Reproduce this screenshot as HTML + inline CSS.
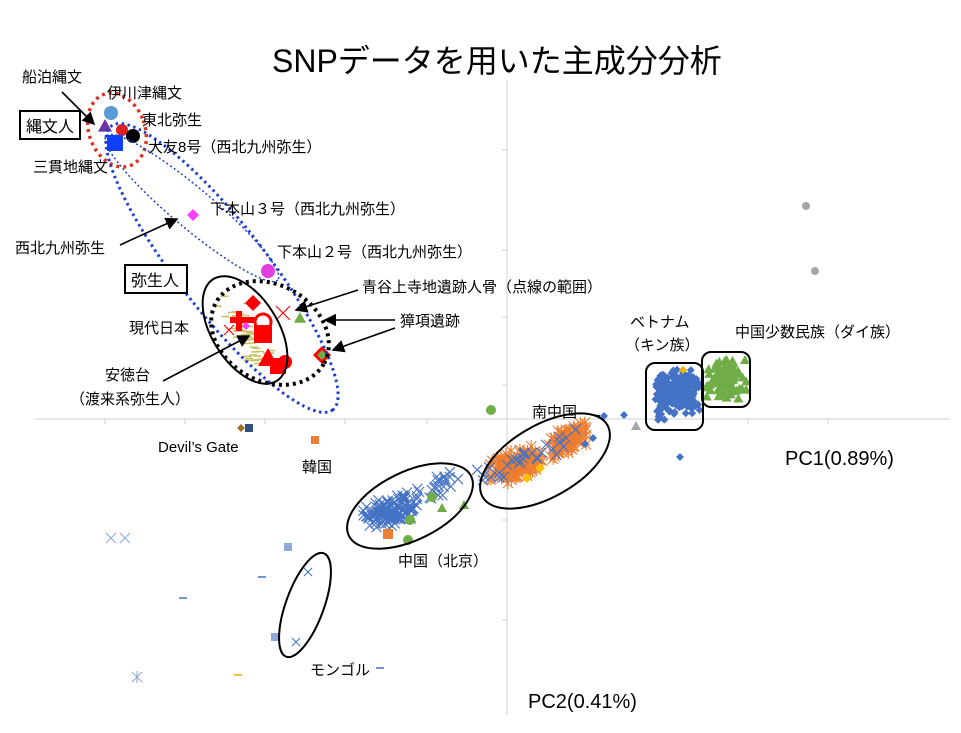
<!DOCTYPE html>
<html><head><meta charset="utf-8"><style>
html,body{margin:0;padding:0;background:#fff;width:961px;height:733px;overflow:hidden}
svg{display:block;font-family:"Liberation Sans","Noto Sans CJK JP",sans-serif}
</style></head><body>
<svg id="s" width="961" height="733" viewBox="0 0 961 733" xmlns="http://www.w3.org/2000/svg">
<defs><marker id="a" markerWidth="8" markerHeight="8" refX="7" refY="4" orient="auto"><path d="M0,0 L8,4 L0,8 z" fill="#000"/></marker></defs>
<g stroke="#d0d0d0" stroke-width="1">
<line x1="35" y1="419" x2="950" y2="419"/><line x1="507" y1="80" x2="507" y2="715"/>
<line x1="105" y1="419" x2="105" y2="424"/><line x1="185" y1="419" x2="185" y2="424"/><line x1="265" y1="419" x2="265" y2="424"/><line x1="345" y1="419" x2="345" y2="424"/><line x1="427" y1="419" x2="427" y2="424"/><line x1="587" y1="419" x2="587" y2="424"/><line x1="667" y1="419" x2="667" y2="424"/><line x1="748" y1="419" x2="748" y2="424"/><line x1="828" y1="419" x2="828" y2="424"/>
<line x1="502" y1="150" x2="507" y2="150"/><line x1="502" y1="250" x2="507" y2="250"/><line x1="502" y1="317" x2="507" y2="317"/><line x1="502" y1="385" x2="507" y2="385"/><line x1="502" y1="520" x2="507" y2="520"/><line x1="502" y1="620" x2="507" y2="620"/>
</g>
<g id="pts"></g>
<g fill="none">
<ellipse cx="117" cy="130" rx="28" ry="38" transform="rotate(-20 117 130)" stroke="#e03020" stroke-width="3.5" stroke-dasharray="3,4"/>
<ellipse cx="222" cy="268" rx="180" ry="44" transform="rotate(52 222 268)" stroke="#1f3fd0" stroke-width="3" stroke-dasharray="2.5,3.5"/>
<ellipse cx="192" cy="208" rx="112" ry="20" transform="rotate(40 192 208)" stroke="#1f3fd0" stroke-width="1.5" stroke-dasharray="2,2.5"/>
<ellipse cx="245" cy="330" rx="33" ry="60" transform="rotate(-32 245 330)" stroke="#000" stroke-width="2"/>
<ellipse cx="270" cy="333" rx="62" ry="48" transform="rotate(30 270 333)" stroke="#000" stroke-width="4" stroke-dasharray="3,4"/>
<ellipse cx="410" cy="506" rx="68" ry="34" transform="rotate(-26 410 506)" stroke="#000" stroke-width="2"/>
<ellipse cx="545" cy="461" rx="72" ry="36" transform="rotate(-30 545 461)" stroke="#000" stroke-width="2"/>
<ellipse cx="305" cy="605" rx="19" ry="55" transform="rotate(20 305 605)" stroke="#000" stroke-width="2"/>
<rect x="646" y="363" width="57" height="67" rx="9" stroke="#000" stroke-width="2"/>
<rect x="702" y="352" width="48" height="55" rx="9" stroke="#000" stroke-width="2"/>
<rect x="20" y="111" width="60" height="28" stroke="#000" stroke-width="2" fill="#fff"/>
<rect x="125" y="265" width="62" height="28" stroke="#000" stroke-width="2" fill="#fff"/>
</g>
<g stroke="#000" stroke-width="1.6" fill="none" marker-end="url(#a)">
<line x1="62" y1="92" x2="94" y2="124"/>
<line x1="120" y1="245" x2="177" y2="219"/>
<line x1="358" y1="290" x2="296" y2="310"/>
<line x1="395" y1="320" x2="325" y2="320"/>
<line x1="395" y1="328" x2="333" y2="350"/>
<line x1="163" y1="381" x2="249" y2="336"/>
</g>
<line x1="588" y1="414" x2="600" y2="416" stroke="#000" stroke-width="1.6"/>
<g font-size="15" fill="#000">
<text x="22" y="82">船泊縄文</text><text x="107" y="98">伊川津縄文</text><text x="142" y="125">東北弥生</text>
<text x="148" y="152">大友8号（西北九州弥生）</text><text x="33" y="172">三貫地縄文</text>
<text x="210" y="214">下本山３号（西北九州弥生）</text><text x="277" y="257">下本山２号（西北九州弥生）</text>
<text x="15" y="253">西北九州弥生</text><text x="362" y="292">青谷上寺地遺跡人骨（点線の範囲）</text>
<text x="400" y="326">獐項遺跡</text><text x="129" y="333">現代日本</text><text x="105" y="380">安徳台</text>
<text x="70" y="404">（渡来系弥生人）</text><text x="532" y="417">南中国</text>
<text x="630" y="327">ベトナム</text><text x="625" y="350">（キン族）</text><text x="735" y="337">中国少数民族（ダイ族）</text>
<text x="158" y="452">Devil’s Gate</text><text x="302" y="472">韓国</text><text x="398" y="566">中国（北京）</text><text x="310" y="675">モンゴル</text>
<text x="26" y="132" font-size="16">縄文人</text><text x="131" y="286" font-size="16">弥生人</text>
</g>
<text x="272" y="72" font-size="32">SNPデータを用いた主成分分析</text>
<text x="785" y="465" font-size="20">PC1(0.89%)</text>
<text x="528" y="708" font-size="20">PC2(0.41%)</text>
</svg>
<script>
var g=document.getElementById('pts'),NS='http://www.w3.org/2000/svg',seed=7;
function r(){seed=(seed*16807)%2147483647;return seed/2147483647;}
function n(){return (r()+r()-1);}
function el(t,a){var e=document.createElementNS(NS,t);for(var k in a)e.setAttribute(k,a[k]);g.appendChild(e);return e;}
function X(x,y,c,s){s=s||4;el('path',{d:'M'+(x-s)+','+(y-s)+'L'+(x+s)+','+(y+s)+'M'+(x-s)+','+(y+s)+'L'+(x+s)+','+(y-s),stroke:c,'stroke-width':1.1});}
function A(x,y,c,s){s=s||4;el('path',{d:'M'+(x-s)+','+(y-s)+'L'+(x+s)+','+(y+s)+'M'+(x-s)+','+(y+s)+'L'+(x+s)+','+(y-s)+'M'+x+','+(y-s-1)+'L'+x+','+(y+s+1),stroke:c,'stroke-width':1.1});}
function D(x,y,c,s){s=s||4;el('path',{d:'M'+x+','+(y-s)+'L'+(x+s)+','+y+'L'+x+','+(y+s)+'L'+(x-s)+','+y+'z',fill:c});}
function T(x,y,c,s){s=s||5;el('path',{d:'M'+x+','+(y-s)+'L'+(x+s)+','+(y+s*0.8)+'L'+(x-s)+','+(y+s*0.8)+'z',fill:c});}
function C(x,y,c,s){el('circle',{cx:x,cy:y,r:s||4,fill:c});}
function S(x,y,c,s){s=s||4;el('rect',{x:x-s,y:y-s,width:2*s,height:2*s,fill:c});}
function L(x,y,c){el('line',{x1:x-4,y1:y,x2:x+4,y2:y,stroke:c,'stroke-width':1.5});}
var B='#4472c4',O='#ed7d31',G='#70ad47';
for(var i=0;i<60;i++){var t=n(),u=n();L(245+t*20+u*12,330+t*38-u*8,'#c8c060');}
// Beijing x
for(var i=0;i<100;i++){var t=n(),u=n();X(390+t*28+u*4,512-t*8+u*14,B,5);}
for(var i=0;i<45;i++){var t=n(),u=n();X(420+t*55,495-t*28+u*14,B,5);}
// orange
for(var i=0;i<140;i++){var t=n(),u=n();A(515+t*32,465-t*10+u*16,O,5);}
for(var i=0;i<90;i++){var t=n(),u=n();A(568+t*22,440-t*8+u*14,O,5);}
for(var i=0;i<30;i++){var t=n(),u=n();X(520+t*75,460-t*32+u*12,B,5);}
// Vietnam
for(var i=0;i<220;i++){D(678+n()*24,392+n()*24,B,4);}
for(var i=0;i<40;i++){D(657+r()*8,375+r()*45,B,4);}
// Dai
for(var i=0;i<90;i++){T(726+n()*22,380+n()*24,G,5);}
D(683,370,'#f0b000',4);T(745,360,G,5);
D(604,416,B);D(624,415,B);D(593,438,B);D(585,444,B);D(680,457,B);T(636,426,'#a5a5a5',5);
C(491,410,G,5);C(806,206,'#a5a5a5',4);C(815,271,'#a5a5a5',4);
C(432,497,G,5);C(410,520,G,5);C(408,540,G,5);T(442,508,G,5);T(464,505,G,5);S(388,534,O,5);
D(540,468,'#ffc000',5);D(527,478,'#ffc000',5);
X(111,538,'#8fa8d8',5);X(125,538,'#8fa8d8',5);S(288,547,'#8fa8d8',4);S(275,637,'#8fa8d8',4);
A(137,677,'#8fa8d8',5);L(183,598,B);L(262,577,B);L(238,675,'#f0b000');L(380,668,B);X(308,572,B,4);X(296,642,B,4);
D(241,428,'#a07020',4);S(249,428,'#305080',4);S(315,440,O,4);
C(111,113,'#5b9bd5',7);T(105,126,'#7030a0',7);C(122,130,'#e02020',6);C(133,136,'#000',7);S(115,143,'#1040ff',8);
D(193,215,'#ff40ff',6);C(268,271,'#e040e0',7);
var R='#ff0000';
D(253,303,R,8);X(283,313,R,7);T(300,318,G,6);
el('rect',{x:230,y:317,width:25,height:6,fill:R});el('rect',{x:236,y:311,width:6,height:20,fill:R});
X(229,330,R,5);D(246,326,'#ff40ff',4);
el('circle',{cx:263,cy:322,r:8,fill:'none',stroke:R,'stroke-width':3});S(263,334,R,9);
T(268,358,R,10);S(278,366,R,8);C(285,362,R,7);
D(322,355,R,9);D(322,355,G,5);
</script>
</body></html>
